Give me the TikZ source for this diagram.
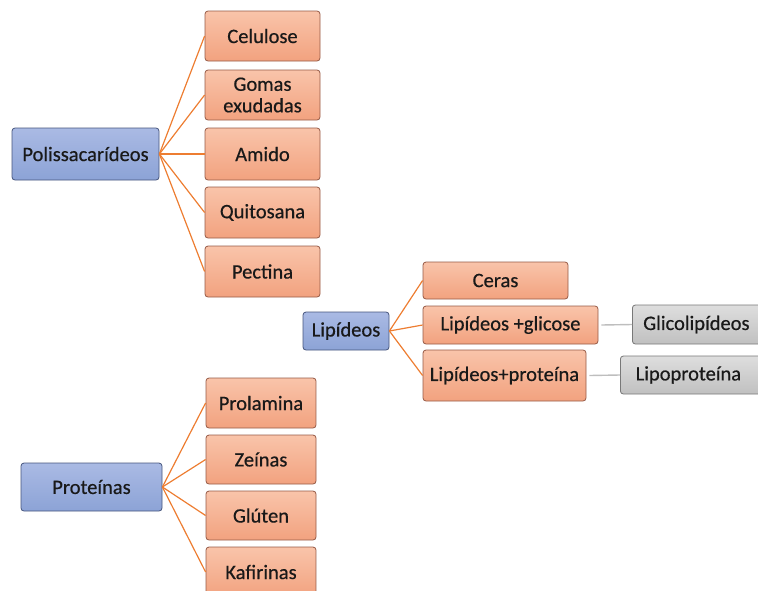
\documentclass[tikz,border=0pt]{standalone}
\usepackage{fontspec}
\setmainfont{Carlito}[RawFeature={embolden=0.5}]
\begin{document}
\begin{tikzpicture}[x=1pt,y=-1pt,
  base/.style={rounded corners=3pt, draw, line width=0.8pt, align=center, font=\fontsize{20.5}{21.5}\selectfont, inner sep=0pt, text=black!90},
  bluebox/.style={base, draw={rgb,255:red,70;green,85;blue,125}, top color={rgb,255:red,170;green,186;blue,228}, bottom color={rgb,255:red,140;green,163;blue,214}},
  orbox/.style={base, draw={rgb,255:red,150;green,90;blue,70}, top color={rgb,255:red,249;green,196;blue,170}, bottom color={rgb,255:red,242;green,162;blue,127}},
  grbox/.style={base, draw={rgb,255:red,120;green,120;blue,120}, top color={rgb,255:red,222;green,222;blue,222}, bottom color={rgb,255:red,192;green,192;blue,192}},
  oline/.style={draw={rgb,255:red,237;green,125;blue,49}, line width=1.2pt},
  gline/.style={draw={rgb,255:red,190;green,190;blue,190}, line width=1.4pt}]
\clip (0,0) rectangle (758,590);
\useasboundingbox (0,0) rectangle (758,590);
% Polissacarideos
\node[bluebox, minimum width=147pt, minimum height=52pt] (pol) at (85.5,154) {Polissacarídeos};
\node[orbox, minimum width=115pt, minimum height=50pt] (cel) at (262.5,36) {Celulose};
\node[orbox, minimum width=115pt, minimum height=50pt] (gom) at (262.5,95) {Gomas\\exudadas};
\node[orbox, minimum width=115pt, minimum height=52pt] (ami) at (262.5,154) {Amido};
\node[orbox, minimum width=115pt, minimum height=51pt] (qui) at (262.5,212.5) {Quitosana};
\node[orbox, minimum width=115pt, minimum height=51pt] (pec) at (262.5,271.5) {Pectina};
\foreach \n in {cel,gom,ami,qui,pec} \draw[oline] (pol.east) -- (\n.west);
% Lipideos
\node[bluebox, minimum width=86pt, minimum height=38pt] (lip) at (346,331) {Lipídeos};
\node[orbox, minimum width=145pt, minimum height=37pt] (cer) at (495.5,280.5) {Ceras};
\node[orbox, minimum width=175pt, minimum height=38pt] (lgl) at (510.5,325) {Lipídeos +glicose};
\node[orbox, minimum width=163pt, minimum height=51pt] (lpr) at (504.5,375.5) {Lipídeos+proteína};
\node[grbox, minimum width=140pt, minimum height=39pt, anchor=west] (gli) at (632,324.5) {\hspace*{-12pt}Glicolipídeos};
\node[grbox, minimum width=150pt, minimum height=38pt, anchor=west] (lpp) at (620,375) {\hspace*{-14pt}Lipoproteína};
\foreach \n in {cer,lgl,lpr} \draw[oline] (lip.east) -- (\n.west);
\draw[gline] ([xshift=3pt]lgl.east) -- (gli.west);
\draw[gline] ([xshift=3pt]lpr.east) -- (lpp.west);
% Proteinas
\node[bluebox, minimum width=141pt, minimum height=48pt] (pro) at (91.5,487) {Proteínas};
\node[orbox, minimum width=110pt, minimum height=50pt] (prl) at (261,403) {Prolamina};
\node[orbox, minimum width=110pt, minimum height=49pt] (zei) at (261,459.5) {Zeínas};
\node[orbox, minimum width=110pt, minimum height=49pt] (glu) at (261,515.5) {Glúten};
\node[orbox, minimum width=110pt, minimum height=50pt] (kaf) at (261,572) {Kafirinas};
\foreach \n in {prl,zei,glu,kaf} \draw[oline] (pro.east) -- (\n.west);
\end{tikzpicture}
\end{document}
